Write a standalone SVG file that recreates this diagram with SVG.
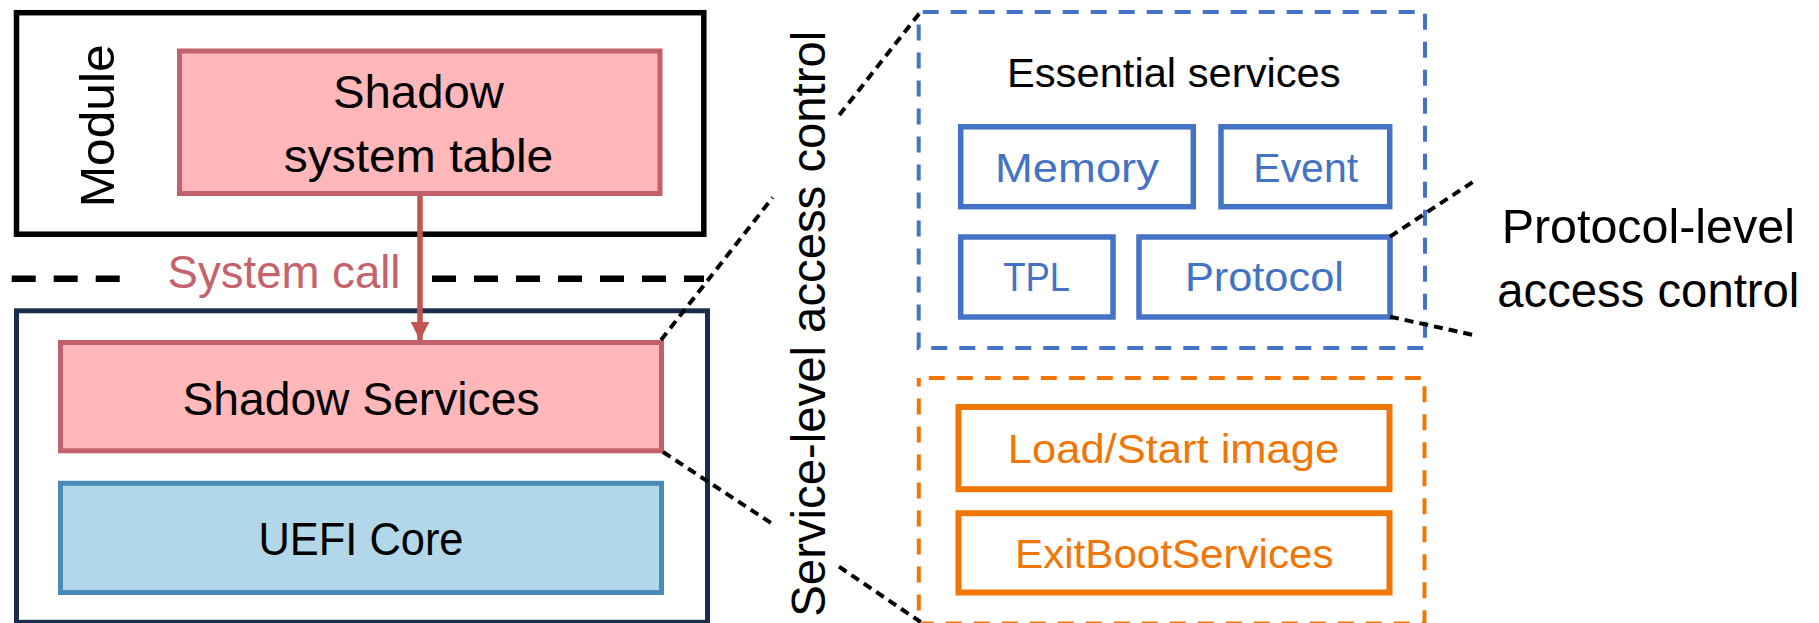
<svg xmlns="http://www.w3.org/2000/svg" width="1819" height="623" viewBox="0 0 1819 623">
<style>
text{font-family:"Liberation Sans",Arial,sans-serif;}
.big{font-size:47px;fill:#000;text-anchor:middle;}
.rot{font-size:48px;fill:#000;text-anchor:middle;}
.blue{font-size:41px;fill:#4472c4;text-anchor:middle;}
.org{font-size:40px;fill:#f07605;text-anchor:middle;}
.pink{fill:#ffb7b9;stroke:#c2616b;stroke-width:5;}
.bbox{fill:#fff;stroke:#4472c4;stroke-width:5.5;}
.obox{fill:#fff;stroke:#f07605;stroke-width:6;}
.dash{fill:none;stroke:#000;stroke-width:4;stroke-dasharray:9 6;}
</style>
<defs>
<marker id="ah" viewBox="0 0 10 10" refX="10" refY="5" markerWidth="3.4" markerHeight="3.4" markerUnits="strokeWidth" orient="auto">
<path d="M0,0 L10,5 L0,10 z" fill="#c0564f"/>
</marker>
</defs>
<rect width="1819" height="623" fill="#fff"/>
<g id="module">
<rect x="16.5" y="12.7" width="687.3" height="221.5" fill="none" stroke="#000" stroke-width="5.5"/>
<text class="rot" transform="translate(114,125.8) rotate(-90)" textLength="163" lengthAdjust="spacingAndGlyphs">Module</text>
</g>
<g id="shadow-table">
<rect class="pink" x="179.5" y="51" width="480.5" height="142.5"/>
<text class="big" x="418.5" y="107.7" textLength="171" lengthAdjust="spacingAndGlyphs">Shadow</text>
<text class="big" x="418.5" y="171.7" textLength="269.5" lengthAdjust="spacingAndGlyphs">system table</text>
</g>
<g id="kernel">
<rect x="16.5" y="310.8" width="691" height="311.5" fill="none" stroke="#1b2c4e" stroke-width="5"/>
</g>
<g id="shadow-services">
<rect class="pink" x="60.5" y="342.5" width="601" height="108.3"/>
<text class="big" x="361" y="415" textLength="357" lengthAdjust="spacingAndGlyphs">Shadow Services</text>
</g>
<g id="uefi-core">
<rect x="60.5" y="483.3" width="601" height="109.2" fill="#b2d7e8" stroke="#4a8ab8" stroke-width="5"/>
<text class="big" x="361" y="555" textLength="205" lengthAdjust="spacingAndGlyphs">UEFI Core</text>
</g>
<g id="system-call-label">
<text x="284" y="287.7" font-size="46" fill="#c5636d" text-anchor="middle" textLength="233" lengthAdjust="spacingAndGlyphs">System call</text>
</g>
<g id="essential">
<rect x="918.7" y="12" width="506.3" height="336" fill="none" stroke="#4472c4" stroke-width="4" stroke-dasharray="16 12" stroke-dashoffset="-4"/>
<text x="1173.8" y="87.3" font-size="40" fill="#000" text-anchor="middle" textLength="333.7" lengthAdjust="spacingAndGlyphs">Essential services</text>
</g>
<g id="memory">
<rect class="bbox" x="960.7" y="126.8" width="232.6" height="79.9"/>
<text class="blue" x="1077" y="181.7" textLength="163.8" lengthAdjust="spacingAndGlyphs">Memory</text>
</g>
<g id="event">
<rect class="bbox" x="1221" y="126.8" width="168.7" height="79.9"/>
<text class="blue" x="1305.7" y="181.7" textLength="104.7" lengthAdjust="spacingAndGlyphs">Event</text>
</g>
<g id="tpl">
<rect class="bbox" x="960.7" y="237" width="152.3" height="80"/>
<text class="blue" x="1036.7" y="290.7" textLength="67" lengthAdjust="spacingAndGlyphs">TPL</text>
</g>
<g id="protocol">
<rect class="bbox" x="1139" y="237" width="251" height="80"/>
<text class="blue" x="1264.4" y="290.7" textLength="159" lengthAdjust="spacingAndGlyphs">Protocol</text>
</g>
<g id="other-services">
<rect x="918.8" y="378" width="505.7" height="245.5" fill="none" stroke="#f07605" stroke-width="4" stroke-dasharray="16 12" stroke-dashoffset="-10"/>
</g>
<g id="load-start">
<rect class="obox" x="958.5" y="407" width="431" height="82.2"/>
<text class="org" x="1173.5" y="463.3" textLength="331.3" lengthAdjust="spacingAndGlyphs">Load/Start image</text>
</g>
<g id="exit-boot">
<rect class="obox" x="958.5" y="513.2" width="431" height="79.3"/>
<text class="org" x="1174.3" y="568.3" textLength="318.5" lengthAdjust="spacingAndGlyphs">ExitBootServices</text>
</g>
<g id="service-level-label">
<text class="rot" transform="translate(824.5,323.7) rotate(-90)" textLength="586" lengthAdjust="spacingAndGlyphs">Service-level access control</text>
</g>
<g id="protocol-level-label">
<text class="rot" x="1648.3" y="243.3" textLength="293.3" lengthAdjust="spacingAndGlyphs">Protocol-level</text>
<text class="rot" x="1648.3" y="306.7" textLength="302" lengthAdjust="spacingAndGlyphs">access control</text>
</g>
<g id="connectors">
<path d="M11.7,278.7 H120 M432,278.7 H704" fill="none" stroke="#000" stroke-width="6.5" stroke-dasharray="24 18"/>
<line x1="420" y1="195.5" x2="420" y2="340.5" stroke="#c0564f" stroke-width="5.5" marker-end="url(#ah)"/>
<path class="dash" d="M661,340 L772.7,197.5 M839.3,115 L920.7,11.7"/>
<path class="dash" d="M663,452 L771,523 M839,566.7 L920.6,622"/>
<path class="dash" d="M1390,236.7 L1473.3,181.7 M1390,316.7 L1473.3,335" stroke-dasharray="11 6"/>
</g>
</svg>
